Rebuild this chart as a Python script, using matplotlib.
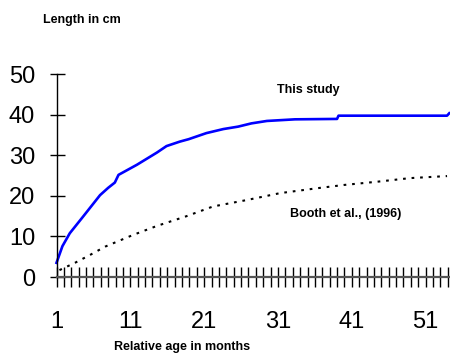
import matplotlib
matplotlib.use("Agg")
import matplotlib.pyplot as plt

plt.rcParams['font.family'] = ['Liberation Sans', 'DejaVu Sans']

# curva deste estudo
months_study = [1, 1.8, 2.8, 4.6, 6.9, 8.0, 8.9, 9.4, 11.9, 14.6, 15.9, 17.7, 18.9, 21.3,
                23.6, 25.6, 27.4, 29.5, 33.3, 39.0, 39.2, 53.9, 54.2]
length_study = [3.5, 7.6, 10.8, 14.9, 20.2, 22.0, 23.3, 25.2, 27.7, 30.7, 32.3, 33.4, 34.0, 35.5,
                36.5, 37.1, 37.9, 38.5, 38.9, 39.0, 39.8, 39.8, 40.4]

# curva de Booth et al. (1996)
months_booth = [1.4, 3.5, 5.5, 7.6, 11.4, 14.6, 18.6, 22.2, 26.8, 31.3, 36.3,
                39.9, 44.4, 48.9, 53.9]
length_booth = [1.7, 3.5, 5.4, 7.5, 10.4, 12.6, 15.0, 17.4, 19.0, 20.7, 21.9,
                22.7, 23.5, 24.4, 24.9]

x_ticks = list(range(1, 55))
x_labels = [1, 11, 21, 31, 41, 51]
y_ticks = [0, 10, 20, 30, 40, 50]

fig = plt.figure(figsize=(4.5, 3.54), dpi=100)
ax = fig.add_axes([56.5 / 450, 0.2175, 1 - 56.5 / 450, 0.5725])

ax.plot(months_study, length_study, color='#0000ff', lw=1.9, clip_on=False)
ax.plot(months_booth, length_booth, color='black', lw=1.5,
        linestyle=(0, (1.3, 2.8)), clip_on=False)

ax.set_xlim(1, 54.3)
ax.set_ylim(0, 50)

for s in ['top', 'right']:
    ax.spines[s].set_visible(False)
ax.spines['left'].set_linewidth(1.0)
ax.spines['bottom'].set_linewidth(1.6)
ax.spines['bottom'].set_color('#555555')

ax.set_xticks(x_ticks)
ax.set_xticklabels([str(m) if m in x_labels else '' for m in x_ticks])
ax.set_yticks(y_ticks)
ax.tick_params(axis='x', direction='inout', length=14.4, width=1.0,
               color='black', labelsize=17, pad=17)
ax.tick_params(axis='y', direction='inout', length=10.8, width=1.0,
               color='black', labelsize=17, pad=10)

fig.text(43 / 450, 1 - 20 / 354, 'Length in cm', fontsize=9, fontweight='bold',
         ha='left', va='center')
fig.text(182 / 450, 1 - 347 / 354, 'Relative age in months', fontsize=9,
         fontweight='bold', ha='center', va='center')
fig.text(308 / 450, 1 - 90 / 354, 'This study', fontsize=9, fontweight='bold',
         ha='center', va='center')
fig.text(346 / 450, 1 - 214 / 354, 'Booth et al., (1996)', fontsize=9,
         fontweight='bold', ha='center', va='center')

fig.savefig('out.png', dpi=100)
